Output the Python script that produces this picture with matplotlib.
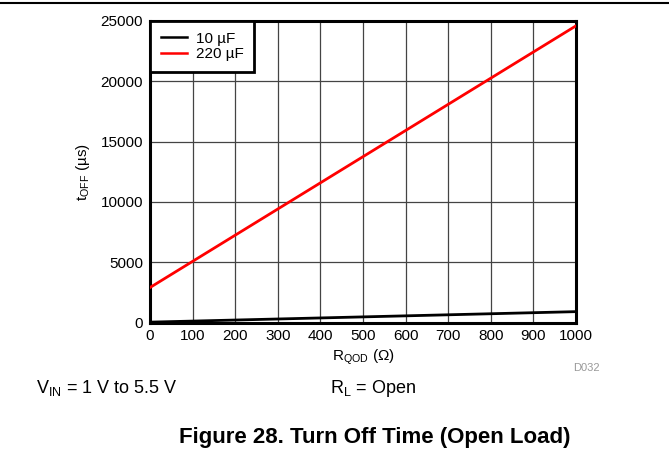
import matplotlib
matplotlib.use("Agg")
import matplotlib.pyplot as plt
from matplotlib.lines import Line2D

plt.rcParams['font.family'] = ['Liberation Sans', 'DejaVu Sans']
plt.rcParams['mathtext.fontset'] = 'custom'
plt.rcParams['mathtext.rm'] = 'Liberation Sans'
plt.rcParams['mathtext.it'] = 'Liberation Sans'

# R_QOD resistance (ohm) and turn-off time (us) per output capacitance
r_qod = [0, 1000]
toff_10uF = [30, 900]
toff_220uF = [2900, 24600]
series_labels = ['10 µF', '220 µF']
x_ticks = [0, 100, 200, 300, 400, 500, 600, 700, 800, 900, 1000]
y_ticks = [0, 5000, 10000, 15000, 20000, 25000]

fig = plt.figure(figsize=(6.69, 4.61), dpi=100)
ax = fig.add_axes([150 / 669, 1 - 322.5 / 461, 426 / 669, 301.5 / 461])

ax.plot(r_qod, toff_10uF, color='black', lw=2, label=series_labels[0], zorder=3)
ax.plot(r_qod, toff_220uF, color='#ff0000', lw=2, label=series_labels[1], zorder=3)

ax.set_xlim(0, 1000)
ax.set_ylim(0, 25000)
ax.set_xticks(x_ticks)
ax.set_yticks(y_ticks)
ax.tick_params(length=0, labelsize=11, pad=5)
ax.grid(True, color='#444444', lw=0.9)
ax.set_axisbelow(True)
for s in ax.spines.values():
    s.set_linewidth(2.2)
    s.set_color('black')

ax.set_xlabel(r'R$_{\mathregular{QOD}}$ ($\Omega$)', fontsize=11, labelpad=3)
ax.set_ylabel(r't$_{\mathregular{OFF}}$ (µs)', fontsize=11, labelpad=6)

leg = ax.legend(loc='upper left', bbox_to_anchor=(0, 1), borderaxespad=0,
                frameon=True, fancybox=False, framealpha=1, fontsize=11,
                handlelength=1.7, handletextpad=0.6, labelspacing=0.1,
                borderpad=0.7)
leg.get_frame().set_edgecolor('black')
leg.get_frame().set_linewidth(2)
for h in leg.get_lines():
    h.set_linewidth(1.8)

fig.text(586 / 669, 1 - 368 / 461, 'D032', color='#999999', fontsize=8, ha='center', va='center')
fig.add_artist(Line2D([0, 1], [1 - 3.5 / 461, 1 - 3.5 / 461], color='black', lw=1.5))

fig.text(36 / 669, 1 - 388 / 461, r'V$_{\mathregular{IN}}$ = 1 V to 5.5 V', fontsize=13,
         ha='left', va='center')
fig.text(330 / 669, 1 - 388 / 461, r'R$_{\mathregular{L}}$ = Open', fontsize=13,
         ha='left', va='center')
fig.text(375 / 669, 1 - 437 / 461, 'Figure 28. Turn Off Time (Open Load)', fontsize=16,
         fontweight='bold', ha='center', va='center')

fig.savefig('out.png', dpi=100)
